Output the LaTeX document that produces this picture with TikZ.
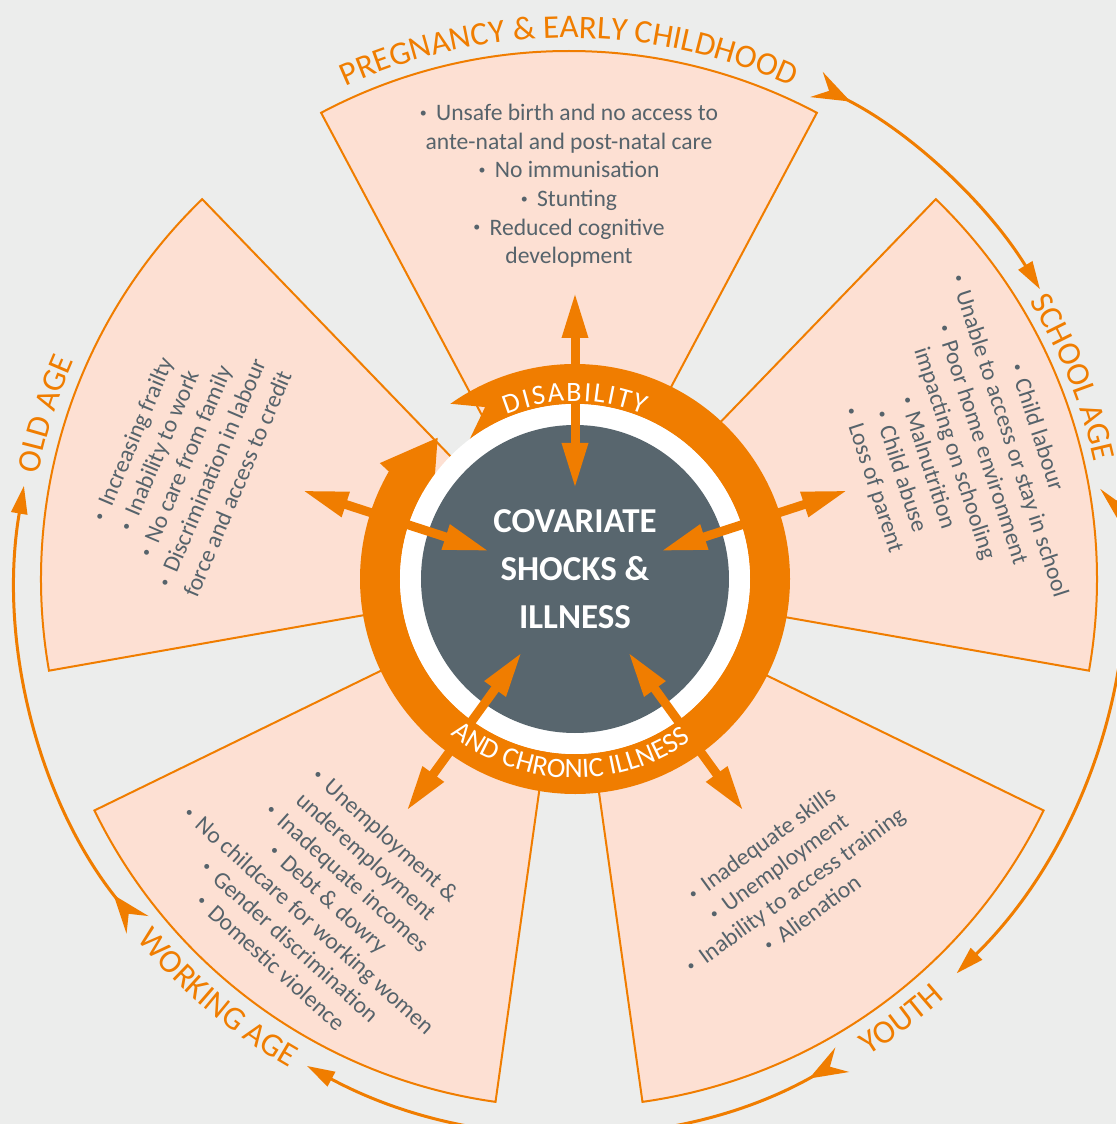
\documentclass[tikz,border=0pt]{standalone}
\usepackage{fontspec}
\setmainfont{Carlito}
\usepackage{tikz}
\usetikzlibrary{arrows.meta}

\definecolor{lifeorange}{RGB}{240,125,0}
\definecolor{peach}{RGB}{253,224,211}
\definecolor{slate}{RGB}{88,102,110}
\definecolor{greytext}{RGB}{86,99,107}
\definecolor{paper}{RGB}{236,237,236}

\newcommand{\stagefont}{\fontsize{16.5}{16.5}\selectfont}
\newcommand{\ringfont}{\fontsize{14}{14}\selectfont}
\newcommand{\itm}{\raisebox{0.3ex}{\fontsize{7}{7}\selectfont\textbullet}\ \,}

% letters round a circle: fills #1 with char/angle/rotation
% #2 font, #3 radius of the baseline, #4 middle angle,
% #5 1 = clockwise (tops out), -1 = anticlockwise (tops in), #6 text (~ for a space)
\makeatletter
\newdimen\arcrun
\newdimen\arctotal
\newdimen\arctrack
\def\arcspace{~}
\newcommand{\arcprep}[6]{%
    \global\arctotal=0pt%
    \@tfor\arcch:=#6\do{\setbox0=\hbox{#2\arcch}%
        \global\advance\arctotal by \wd0\global\advance\arctotal by \arctrack}%
    \global\advance\arctotal by -\arctrack
    \global\arcrun=0pt%
    \gdef#1{}%
    \@tfor\arcch:=#6\do{%
        \setbox0=\hbox{#2\arcch}%
        \edef\arcw{\the\wd0}\edef\arcs{\the\arcrun}\edef\arct{\the\arctotal}%
        \pgfmathsetmacro\arcang{#4-(#5)*(\arcs+0.5*\arcw-0.5*\arct)/(0.5*#3)*57.29578}%
        \pgfmathsetmacro\arcrot{\arcang-(#5)*90}%
        \ifx\arcch\arcspace\else
            \ifx#1\empty
                \xdef#1{\expandafter\noexpand\arcch/\arcang/\arcrot}%
            \else
                \xdef#1{#1,\expandafter\noexpand\arcch/\arcang/\arcrot}%
            \fi
        \fi
        \global\advance\arcrun by \arcw\global\advance\arcrun by \arctrack}%
}
\makeatother

\begin{document}
\arctrack=0pt
\arcprep{\earlyname}{\stagefont}{541}{90}{1}{PREGNANCY~\&~EARLY~CHILDHOOD}%
\arcprep{\schoolname}{\stagefont}{538}{21.8}{1}{SCHOOL~AGE}%
\arcprep{\youthname}{\stagefont}{563}{-53}{-1}{YOUTH}%
\arcprep{\workname}{\stagefont}{563}{-130}{-1}{WORKING~AGE}%
\arcprep{\oldname}{\stagefont}{541}{162.5}{1}{OLD~AGE}%
\arcprep{\illname}{\ringfont}{199}{-91.5}{-1}{AND~CHRONIC~ILLNESS}%
\arctrack=1pt
\arcprep{\disname}{\ringfont}{178}{90}{1}{DISABILITY}%
\begin{tikzpicture}[
        x=0.5pt, y=0.5pt,
        sector/.style={fill=peach, draw=lifeorange, line width=1pt},
        stage/.style={lifeorange, line width=1.5pt,
            {Stealth[reversed,length=19pt,width=14pt,inset=7pt]}-{Triangle[length=14pt,width=8pt]}},
        spoke/.style={lifeorange, line width=4.5pt,
            {Triangle[length=23pt,width=12pt]}-{Triangle[length=23pt,width=12pt]}},
        risks/.style={text=greytext, align=center, inner sep=0pt,
            font=\fontsize{11.8}{14.3}\selectfont},
        hub/.style={circle, fill=slate, minimum size=154pt, inner sep=0pt},
        hublabel/.style={text=white, align=center, font=\fontsize{17.5}{24}\selectfont\bfseries},
        letter/.style={inner sep=0pt, anchor=base}
    ]
    % page and background
    \useasboundingbox (-569,-545) rectangle (547,579);
    \fill[paper] (-569,-545) rectangle (547,579);
    \coordinate (hubc) at (6,0);

    % Life stage sectors
    \foreach \a in {90,18,-54,-126,162}
        \filldraw[sector] (0,0) -- (\a+28:528) arc[start angle=\a+28, end angle=\a-28, radius=528] -- cycle;

    % Life cycle arrows
    \foreach \s/\e in {63.4/31.6, 9.6/-45.5, -60.4/-118.3, -141.3/-189.7}
        \draw[stage] (\s:553) arc[start angle=\s, end angle=\e, radius=553];

    % Stage names
    \foreach \c/\a/\r in \earlyname
        \node[letter, text=lifeorange, font=\stagefont, rotate=\r] at (\a:541) {\c};
    \foreach \c/\a/\r in \schoolname
        \node[letter, text=lifeorange, font=\stagefont, rotate=\r] at (\a:538) {\c};
    \foreach \c/\a/\r in \youthname
        \node[letter, text=lifeorange, font=\stagefont, rotate=\r] at (\a:563) {\c};
    \foreach \c/\a/\r in \workname
        \node[letter, text=lifeorange, font=\stagefont, rotate=\r] at (\a:563) {\c};
    \foreach \c/\a/\r in \oldname
        \node[letter, text=lifeorange, font=\stagefont, rotate=\r] at (\a:541) {\c};

    % Disability ring
    \begin{scope}[shift={(hubc)}]
        \fill[lifeorange] (125.4:215) arc[start angle=125.4, end angle=-210, radius=215]
            -- (149.3:227) -- (134.2:197) -- (150.5:163) -- (150:175)
            arc[start angle=-210, end angle=127, radius=175]
            -- (117.6:194) -- cycle;
        \fill[white] (0,0) circle[radius=175];
    \end{scope}

    % Centre
    \node[hub] (hub) at (hubc) {};
    \node[hublabel] (shock) at ([yshift=4.7pt]hub.center) {COVARIATE\\SHOCKS \&\\ILLNESS};

    % Spokes
    \foreach \a [count=\i] in {90,18,-54,-126,162}
        \path[shift={(hubc)}] (\a:90) coordinate (in\i) (\a:287) coordinate (out\i);
    \foreach \i in {1,...,5}
        \draw[spoke] (in\i) -- (out\i);

    % Ring names
    \begin{scope}[shift={(hubc)}]
        \foreach \c/\a/\r in \disname
            \node[letter, text=white, font=\ringfont, rotate=\r] at (\a:178) {\c};
        \foreach \c/\a/\r in \illname
            \node[letter, text=white, font=\ringfont, rotate=\r] at (\a:199) {\c};
    \end{scope}

    % Risks at each stage
    \node[risks] (early) at (90:393) {\itm Unsafe birth and no access to\\
        ante-natal and post-natal care\\ \itm No immunisation\\ \itm Stunting\\
        \itm Reduced cognitive\\ development};
    \node[risks, rotate=-72] (school) at (18:405) {\itm Child labour\\
        \itm Unable to access or stay in school\\ \itm Poor home environment\\
        impacting on schooling\\ \itm Malnutrition\\ \itm Child abuse\\
        \itm Loss of parent};
    \node[risks, rotate=36] (youth) at (-54:370) {\itm Inadequate skills\\
        \itm Unemployment\\ \itm Inability to access training\\
        \itm Alienation};
    \node[risks, rotate=-42] (working) at (-127:400) {\itm Unemployment \&\\
        underemployment\\ \itm Inadequate incomes\\ \itm Debt \& dowry\\
        \itm No childcare for working women\\ \itm Gender discrimination\\
        \itm Domestic violence};
    \node[risks, rotate=67] (old) at (163:402) {\itm Increasing frailty\\
        \itm Inability to work\\ \itm No care from family\\
        \itm Discrimination in labour\\ force and access to credit};
\end{tikzpicture}
\end{document}
